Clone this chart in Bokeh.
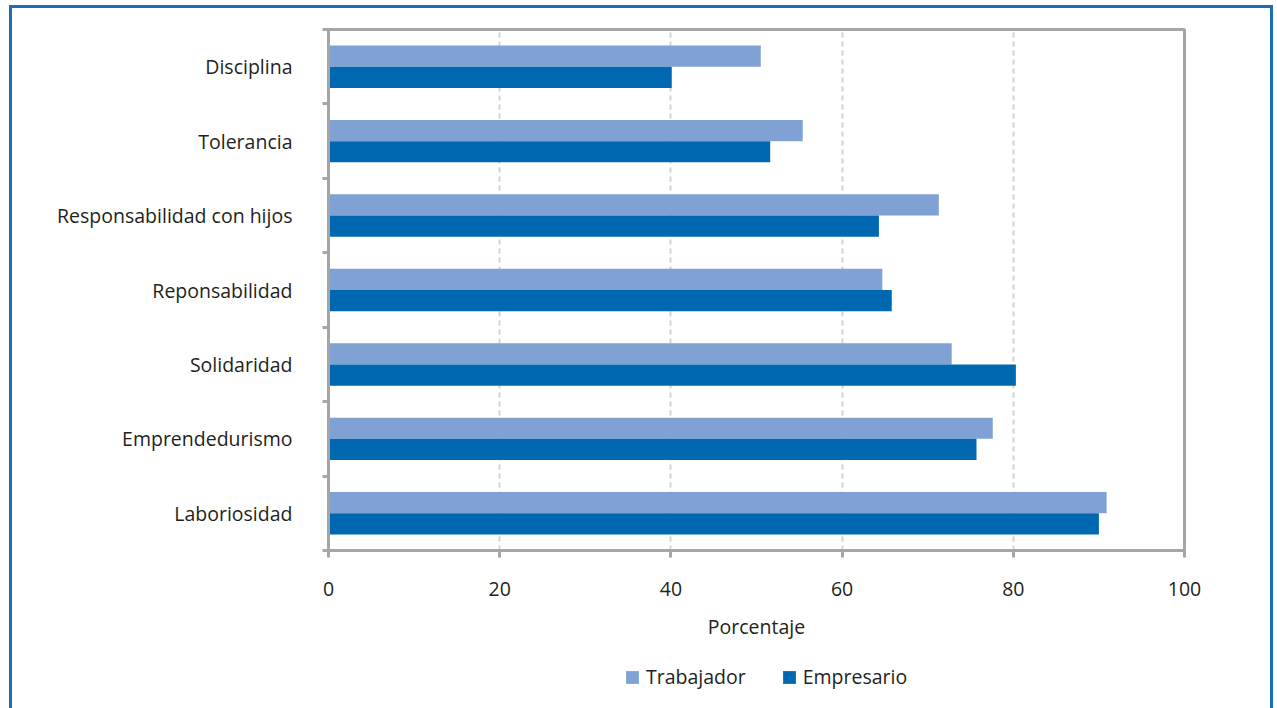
from bokeh.plotting import figure
from bokeh.layouts import column
from bokeh.models import ColumnDataSource, FixedTicker, Legend, LegendItem, Range1d
from bokeh.embed import file_html
from bokeh.resources import INLINE

categories = ["Laboriosidad", "Emprendedurismo", "Solidaridad", "Reponsabilidad",
              "Responsabilidad con hijos", "Tolerancia", "Disciplina"]
trabajador = [90.9, 77.6, 72.8, 64.7, 71.3, 55.4, 50.5]
empresario = [90.0, 75.7, 80.3, 65.8, 64.3, 51.6, 40.1]
x_ticks = [0, 20, 40, 60, 80, 100]

FONT = "Open Sans"
TXT = "#231f20"
GRAY = "#a6a6a6"
C_T = "#7fa1d4"
C_E = "#0068b1"
BORDER = "3px solid #1c6db8"

idx = list(range(len(categories)))
centers = [i + 0.5 for i in idx]
bh = 0.285
src = ColumnDataSource(dict(
    cat=categories,
    yt=[c + bh / 2 for c in centers],
    ye=[c - bh / 2 for c in centers],
    t=trabajador, e=empresario,
))

p = figure(frame_width=856, frame_height=521,
           min_border_left=316, min_border_top=21, min_border_right=86, min_border_bottom=100,
           x_range=Range1d(0, 100), y_range=Range1d(0, len(categories)),
           output_backend="svg", toolbar_location=None)

rt = p.hbar(y="yt", right="t", left=0, height=bh, source=src, color=C_T, line_color=None)
re_ = p.hbar(y="ye", right="e", left=0, height=bh, source=src, color=C_E, line_color=None)

# y axis: labels at centres, tick marks at boundaries
p.yaxis.ticker = FixedTicker(ticks=centers, minor_ticks=[float(i) for i in range(len(categories) + 1)])
p.yaxis.major_label_overrides = {c: n for c, n in zip(centers, categories)}
p.yaxis.major_tick_out = 0
p.yaxis.major_tick_in = 0
p.yaxis.minor_tick_out = 6
p.yaxis.minor_tick_in = 0
p.yaxis.minor_tick_line_color = GRAY
p.yaxis.minor_tick_line_width = 3
p.yaxis.axis_line_color = GRAY
p.yaxis.axis_line_width = 3
p.yaxis.major_label_standoff = 30
p.yaxis.major_label_text_font = FONT
p.yaxis.major_label_text_font_size = "19.5px"
p.yaxis.major_label_text_color = TXT

p.xaxis.ticker = FixedTicker(ticks=x_ticks, minor_ticks=[])
p.xaxis.major_tick_out = 7
p.xaxis.major_tick_in = 0
p.xaxis.major_tick_line_color = GRAY
p.xaxis.major_tick_line_width = 3
p.xaxis.axis_line_color = GRAY
p.xaxis.axis_line_width = 3
p.xaxis.major_label_standoff = 24
p.xaxis.major_label_text_font = FONT
p.xaxis.major_label_text_font_size = "19.5px"
p.xaxis.major_label_text_color = TXT
p.xaxis.axis_label = "Porcentaje"
p.xaxis.axis_label_text_font = FONT
p.xaxis.axis_label_text_font_size = "19.5px"
p.xaxis.axis_label_text_font_style = "normal"
p.xaxis.axis_label_text_color = TXT
p.xaxis.axis_label_standoff = 14

p.ygrid.grid_line_color = None
p.xgrid.grid_line_color = "#d4d4d4"
p.xgrid.grid_line_width = 2
p.xgrid.grid_line_dash = "5 4"

p.outline_line_color = GRAY
p.outline_line_width = 3

# legend strip below the chart (its frame is aligned with the chart's frame)
q = figure(width=1258, height=58, min_border=0,
           x_range=p.x_range, y_range=p.y_range,
           output_backend="svg", toolbar_location=None)
q.axis.visible = False
q.grid.grid_line_color = None
q.outline_line_color = None
lt = q.hbar(y="yt", right="t", left=0, height=bh, source=src, color=C_T, line_color=None, visible=False)
le = q.hbar(y="ye", right="e", left=0, height=bh, source=src, color=C_E, line_color=None, visible=False)

legend = Legend(items=[LegendItem(label="Trabajador", renderers=[lt]),
                       LegendItem(label="Empresario", renderers=[le])],
                orientation="horizontal", location=(296, 18))
legend.label_text_font = FONT
legend.label_text_font_size = "19.5px"
legend.label_text_color = TXT
legend.glyph_width = 16
legend.glyph_height = 16
legend.spacing = 35
legend.label_standoff = 6
legend.padding = 0
legend.margin = 0
legend.border_line_color = None
legend.background_fill_alpha = 0
q.add_layout(legend)

layout = column(p, q, spacing=0)
layout.margin = (5, 0, 0, 9)
layout.styles = {"border-left": BORDER, "border-top": BORDER, "border-right": BORDER}

open("out.html", "w").write(file_html(layout, INLINE))
